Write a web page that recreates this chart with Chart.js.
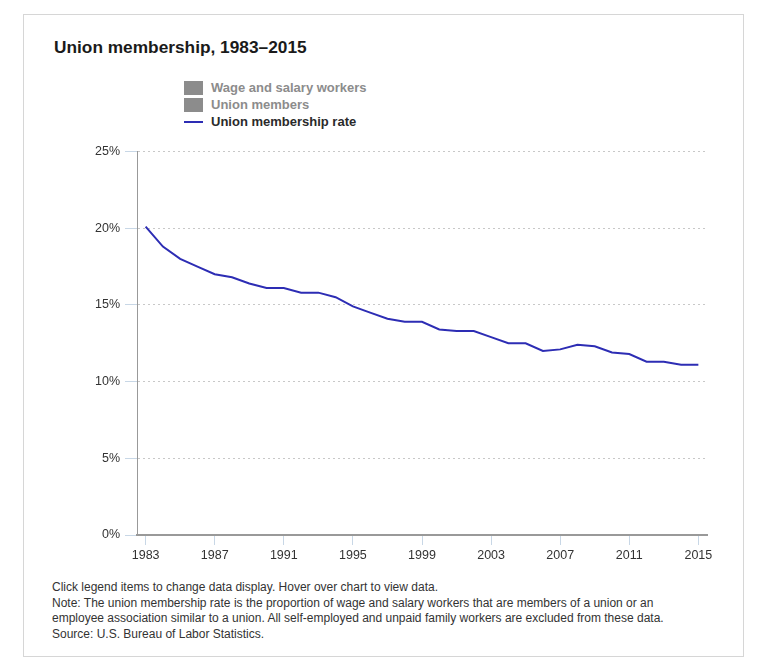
<!DOCTYPE html>
<html>
<head>
<meta charset="utf-8">
<script src="https://cdn.jsdelivr.net/npm/chart.js@4"></script>
<style>
  body { margin: 0; background: #fff; font-family: "Liberation Sans", Arial, sans-serif; }
  #frame { position: absolute; left: 23px; top: 14px; width: 719px; height: 641px; border: 1px solid #d6d6d6; }
  #title { position: absolute; left: 54px; top: 37px; font-size: 17.3px; font-weight: bold; color: #1a1a1a; }
  #legend { position: absolute; left: 184px; top: 79px; }
  .li { height: 17px; display: flex; align-items: center; font-size: 13px; font-weight: bold; white-space: nowrap; }
  .sw { width: 19px; height: 14px; margin-right: 8px; }
  .ln { width: 19px; height: 2px; margin-right: 8px; }
  #wrap { position: absolute; left: 87px; top: 139px; width: 630px; height: 427px; }
  #notes { position: absolute; left: 52px; top: 580px; font-size: 12px; line-height: 15.7px; color: #333; white-space: nowrap; }
</style>
</head>
<body>
<div id="frame"></div>
<div id="title">Union membership, 1983–2015</div>
<div id="legend"></div>
<div id="wrap"><canvas id="c"></canvas></div>
<div id="notes">
  Click legend items to change data display. Hover over chart to view data.<br>
  Note: The union membership rate is the proportion of wage and salary workers that are members of a union or an<br>
  employee association similar to a union. All self-employed and unpaid family workers are excluded from these data.<br>
  Source: U.S. Bureau of Labor Statistics.
</div>
<script>
// data
const years = [1983,1984,1985,1986,1987,1988,1989,1990,1991,1992,1993,1994,1995,1996,1997,1998,1999,
               2000,2001,2002,2003,2004,2005,2006,2007,2008,2009,2010,2011,2012,2013,2014,2015];
const rate  = [20.1,18.8,18.0,17.5,17.0,16.8,16.4,16.1,16.1,15.8,15.8,15.5,14.9,14.5,14.1,13.9,13.9,
               13.4,13.3,13.3,12.9,12.5,12.5,12.0,12.1,12.4,12.3,11.9,11.8,11.3,11.3,11.1,11.1];
const xTicks = [1983,1987,1991,1995,1999,2003,2007,2011,2015];
const yTicks = [0,5,10,15,20,25];
const hiddenSeries = ["Wage and salary workers", "Union members"];
const rateName = "Union membership rate";

const lineColor = "#2d2db4";
const tickBlue  = "#c8d7e6";

// legend (html, two greyed-out series + the visible rate line)
const leg = document.getElementById("legend");
hiddenSeries.forEach(n => {
  leg.insertAdjacentHTML("beforeend", `<div class="li" style="color:#8c8c8c"><div class="sw" style="background:#8c8c8c"></div>${n}</div>`);
});
leg.insertAdjacentHTML("beforeend", `<div class="li" style="color:#2a2a2a"><div class="ln" style="background:${lineColor}"></div>${rateName}</div>`);

new Chart(document.getElementById("c"), {
  type: "line",
  data: {
    labels: years.map(String),
    datasets: [{
      label: rateName, data: rate,
      borderColor: lineColor, borderWidth: 2,
      pointRadius: 0, pointHoverRadius: 4, tension: 0, fill: false
    }]
  },
  options: {
    responsive: true, maintainAspectRatio: false, animation: false,
    layout: { padding: { top: 12, right: 10, left: 0, bottom: 0 } },
    plugins: {
      legend: { display: false },
      tooltip: { callbacks: { label: c => " " + c.parsed.y.toFixed(1) + "%" } }
    },
    scales: {
      x: {
        offset: true,
        grid: {
          drawOnChartArea: false, tickLength: 10,
          tickColor: c => xTicks.includes(years[c.index]) ? tickBlue : "rgba(0,0,0,0)"
        },
        border: { color: "#999", width: 2 },
        ticks: {
          autoSkip: false, maxRotation: 0, padding: 3, color: "#333",
          font: { size: 12.5, family: "'Liberation Sans', Arial" },
          callback: (v, i) => xTicks.includes(years[i]) ? String(years[i]) : ""
        }
      },
      y: {
        min: yTicks[0], max: yTicks[yTicks.length - 1],
        afterFit: s => { s.width = 50; },
        grid: { color: "#c8c8c8", tickColor: tickBlue, tickLength: 12, lineWidth: 1 },
        border: { color: "#999", width: 1, dash: [2, 3] },
        ticks: {
          stepSize: 5, padding: 5, color: "#333",
          font: { size: 12.5, family: "'Liberation Sans', Arial" },
          callback: v => v + "%"
        }
      }
    }
  }
});
</script>
</body>
</html>
